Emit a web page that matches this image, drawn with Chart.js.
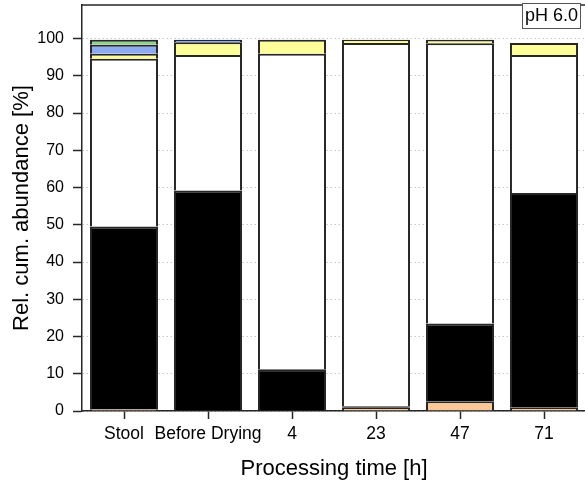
<!DOCTYPE html>
<html>
<head>
<meta charset="utf-8">
<script src="https://cdn.jsdelivr.net/npm/chart.js@4/dist/chart.umd.min.js"></script>
<style>
  html, body { margin: 0; padding: 0; background: #fff; overflow: hidden; }
  #wrap { width: 592px; height: 485px; }
</style>
</head>
<body>
<div id="wrap"><canvas id="abundanceChart" width="592" height="485"></canvas></div>
<script>
(function() {
    "use strict";

    // x categories
    var categories = ['Stool', 'Before Drying', '4', '23', '47', '71'];

    // stacked fractions, bottom to top [%]
    var peach  = [0.5, 0, 0, 0.9, 2.6, 1.0];
    var black  = [49.0, 59.2, 11.2, 0.4, 20.9, 57.5];
    var white  = [45.1, 36.4, 84.7, 97.5, 75.2, 37.1];
    var yellow = [1.3, 3.4, 3.8, 0.9, 1.0, 3.2];
    var blue   = [2.4, 0.7, 0, 0, 0, 0];
    var green  = [1.4, 0, 0, 0, 0, 0];

    var yTicks = [0, 10, 20, 30, 40, 50, 60, 70, 80, 90, 100];

    var fontFam = "'Liberation Sans', Arial, sans-serif";
    var edge = '#262626';

    function layer(name, values, colour) {
        return {
            label: name,
            data: values,
            backgroundColor: colour,
            borderColor: edge,
            borderWidth: 2,
            categoryPercentage: 1.0,
            barPercentage: 0.81
        };
    }

    // plot frame + pH label box
    var framePlugin = {
        id: 'frame',
        afterDatasetsDraw: function(chart) {
            var a = chart.chartArea, c = chart.ctx;
            c.save();
            c.strokeStyle = edge;
            c.lineWidth = 1.5;
            c.beginPath();
            c.moveTo(a.left, a.top);
            c.lineTo(a.right, a.top);
            c.lineTo(a.right, a.bottom);
            c.stroke();

            c.fillStyle = '#fff';
            c.fillRect(522, 3, 59, 26);
            c.strokeStyle = '#555';
            c.lineWidth = 1;
            c.strokeRect(522.5, 3.5, 58, 25);
            c.fillStyle = '#000';
            c.font = "18px " + fontFam;
            c.textAlign = 'center';
            c.textBaseline = 'middle';
            c.fillText('pH 6.0', 551.5, 16.5);
            c.restore();
        }
    };

    var ctx = document.getElementById('abundanceChart');
    var myChart = new Chart(ctx, {
        type: 'bar',
        data: {
            labels: categories,
            datasets: [
                layer('peach', peach, '#f9c896'),
                layer('black', black, '#000000'),
                layer('white', white, '#ffffff'),
                layer('yellow', yellow, '#ffff99'),
                layer('blue', blue, '#8cabf0'),
                layer('green', green, '#8fd08f')
            ]
        },
        options: {
            responsive: false,
            animation: false,
            devicePixelRatio: 1,
            layout: { padding: { top: 5, right: 6, left: 0, bottom: 0 } },
            plugins: {
                legend: { display: false },
                tooltip: { enabled: false }
            },
            scales: {
                x: {
                    stacked: true,
                    afterFit: function(s) { s.height = 74; },
                    grid: {
                        offset: false,
                        drawOnChartArea: false,
                        drawTicks: true,
                        tickLength: 8,
                        tickColor: edge,
                        tickWidth: 1.5
                    },
                    border: { display: true, color: edge, width: 1.5 },
                    ticks: {
                        color: '#000',
                        padding: 5,
                        maxRotation: 0,
                        autoSkip: false,
                        font: { family: fontFam, size: 17.5 }
                    },
                    title: {
                        display: true,
                        text: 'Processing time [h]',
                        color: '#000',
                        padding: { top: 0, bottom: 3 },
                        font: { family: fontFam, size: 22 }
                    }
                },
                y: {
                    stacked: true,
                    min: 0,
                    max: 109,
                    afterFit: function(s) {
                        s.width = 82;
                        s.paddingTop = 0;
                        s.paddingBottom = 0;
                    },
                    afterBuildTicks: function(s) {
                        s.ticks = yTicks.map(function(v) { return { value: v }; });
                    },
                    grid: {
                        color: '#c8c8c8',
                        lineWidth: 1,
                        drawTicks: true,
                        tickLength: 9,
                        tickColor: edge,
                        tickWidth: 1.5,
                        tickBorderDash: []
                    },
                    border: { display: true, color: edge, width: 1.5, dash: [1.5, 2.5] },
                    ticks: {
                        color: '#000',
                        padding: 9,
                        font: { family: fontFam, size: 16 }
                    },
                    title: {
                        display: true,
                        text: 'Rel. cum. abundance [%]',
                        color: '#000',
                        padding: { top: 9, bottom: 0 },
                        font: { family: fontFam, size: 22 }
                    }
                }
            }
        },
        plugins: [framePlugin]
    });
})();
</script>
</body>
</html>
